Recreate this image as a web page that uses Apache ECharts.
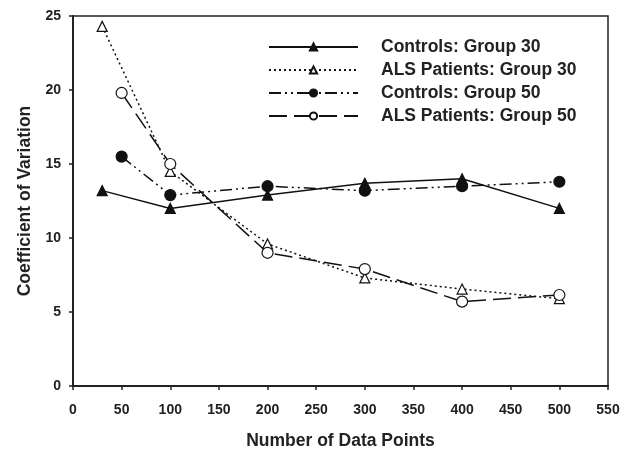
<!DOCTYPE html>
<html><head><meta charset="utf-8">
<script src="https://cdn.jsdelivr.net/npm/echarts@6/dist/echarts.min.js"></script>
<style>html,body{margin:0;padding:0;background:#fff}#c{width:627px;height:455px}</style>
</head><body><div id="c"></div>
<script>
const xTicks = [0,50,100,150,200,250,300,350,400,450,500,550];
const yTicks = [0,5,10,15,20,25];
const seriesNames = ['Controls: Group 30','ALS Patients: Group 30','Controls: Group 50','ALS Patients: Group 50'];
const xG30 = [30,100,200,300,400,500];
const xG50 = [50,100,200,300,400,500];
const controlsG30 = [13.2,12.0,12.9,13.7,14.0,12.0];
const alsG30 = [24.3,14.5,9.6,7.3,6.55,5.9];
const controlsG50 = [15.5,12.9,13.5,13.2,13.5,13.8];
const alsG50 = [19.8,15.0,9.0,7.9,5.7,6.15];

const pair = (xs, ys) => xs.map((x,i)=>[x, ys[i]]);
const font = 'Liberation Sans, Arial, sans-serif';
const chart = echarts.init(document.getElementById('c'), null, {renderer:'canvas'});
const mk = (name, data, dash, symbol, filled, size) => ({
  name, type:'line', data, symbol, symbolSize:size,
  lineStyle:{color:'#111', width:1.5, type:dash},
  itemStyle:{color: filled ? '#111' : '#fff', borderColor:'#111', borderWidth:1.2},
  emphasis:{disabled:true}, animation:false
});
chart.setOption({
  animation:false,
  grid:{left:73, right:19, top:16, bottom:65, show:true, borderColor:'#222', borderWidth:1.5},
  legend:{
    data: seriesNames, orient:'vertical', left:268, top:38, padding:0,
    itemWidth:89, itemHeight:9, itemGap:5,
    textStyle:{fontFamily:font, fontWeight:'bold', fontSize:17.5, lineHeight:18, color:'#222', padding:[0,0,0,18]}
  },
  xAxis:{
    type:'value', min:0, max:550, interval:50,
    name:'Number of Data Points', nameLocation:'middle', nameGap:46,
    nameTextStyle:{fontFamily:font, fontWeight:'bold', fontSize:17.5, color:'#222'},
    axisLine:{lineStyle:{color:'#222', width:2}},
    axisTick:{show:true, length:4, lineStyle:{color:'#222', width:1.5}},
    axisLabel:{fontFamily:font, fontWeight:'bold', fontSize:14, color:'#222', margin:17,
      formatter: v => xTicks.includes(v) ? String(v) : ''},
    splitLine:{show:false}
  },
  yAxis:{
    type:'value', min:0, max:25, interval:5,
    name:'Coefficient of Variation', nameLocation:'middle', nameGap:39,
    nameTextStyle:{fontFamily:font, fontWeight:'bold', fontSize:17.5, color:'#222'},
    axisLine:{show:true, lineStyle:{color:'#222', width:2}},
    axisTick:{show:true, length:4, lineStyle:{color:'#222', width:1.5}},
    axisLabel:{fontFamily:font, fontWeight:'bold', fontSize:14, color:'#222', margin:12,
      formatter: v => yTicks.includes(v) ? String(v) : ''},
    splitLine:{show:false}
  },
  series:[
    mk(seriesNames[0], pair(xG30, controlsG30), 'solid', 'triangle', true, 10),
    mk(seriesNames[1], pair(xG30, alsG30), [2,3], 'triangle', false, 10),
    mk(seriesNames[2], pair(xG50, controlsG50), [12,4,2,4,2,4], 'circle', true, 11),
    mk(seriesNames[3], pair(xG50, alsG50), [18,7], 'circle', false, 11)
  ]
});
</script></body></html>
